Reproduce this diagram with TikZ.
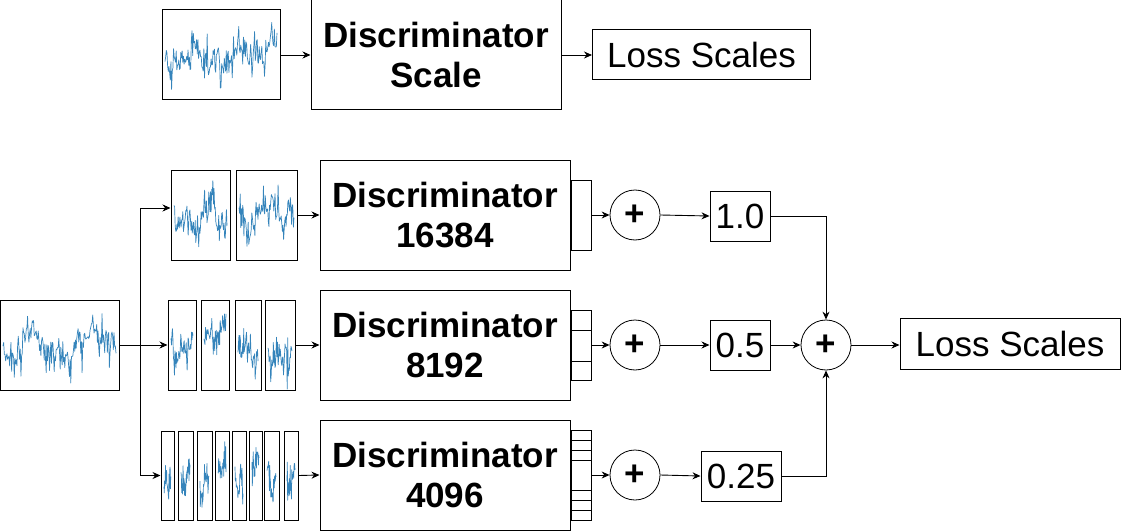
\documentclass[tikz,border=0pt]{standalone}
\usepackage{fontspec}
\setmainfont{Liberation Sans}
\usetikzlibrary{arrows.meta,calc}
\definecolor{wavec}{RGB}{31,119,180}
\newcommand\wavein[6]{% #1 left, #2 top, #3 width, #4 height, #5 seed, #6 samples
  \begin{scope}
  \clip (#1,#2) rectangle ++(#3,#4);
  \pgfmathsetseed{#5}%
  \gdef\wv{0}\gdef\wpts{}%
  \foreach \i in {0,...,#6}{%
    \pgfmathsetmacro\wnew{0.9*\wv+0.5*rand}%
    \xdef\wv{\wnew}%
    \pgfmathsetmacro\wjit{0.55*rand+1.1*pow(rand,3)}%
    \pgfmathsetmacro\wyy{#2+#4/2+#4*0.17*(\wnew+\wjit)}%
    \pgfmathsetmacro\wfr{\i/#6}%
    \pgfmathsetmacro\wxx{#1+3+(#3-6)*\wfr}%
    \xdef\wpts{\wpts(\wxx,\wyy)}%
  }%
  \draw[wave] plot coordinates {\wpts};
  \end{scope}
}
\newcommand\panel[7]{% name, left, top, width, height, seed, samples
  \wavein{#2}{#3}{#4}{#5}{#6}{#7}%
  \node[panelbox, minimum width=#4pt, minimum height=#5pt] (#1) at ({#2+#4/2},{#3+#5/2}) {};
}
\begin{document}
\begin{tikzpicture}[x=1pt,y=-1pt,
  wave/.style={draw=wavec, line width=0.7pt, opacity=0.9, line join=round},
  panelbox/.style={draw, line width=1pt, inner sep=0},
  disc/.style={draw, line width=1pt, minimum width=250pt, minimum height=110pt, inner sep=0, align=center, font=\bfseries\fontsize{35}{40}\selectfont},
  lbl/.style={draw, line width=1pt, inner sep=0, font=\fontsize{35}{40}\selectfont},
  stackbox/.style={draw, line width=0.8pt, minimum width=20pt, inner sep=0},
  plus/.style={draw, circle, line width=0.8pt, minimum size=50pt, inner sep=0, font=\bfseries\fontsize{35}{40}\selectfont},
  arr/.style={-{Stealth[length=8pt,width=7pt]}, line width=0.9pt},
  ln/.style={line width=0.9pt}]
\useasboundingbox (0,0) rectangle (1121,532);

% ---- top row
\panel{W0}{162}{10}{118}{90}{11}{170}
\node[disc] (D0) at (436,55) {Discriminator\\Scale};
\node[lbl, minimum width=218pt, minimum height=50pt] (L0) at (701.5,55) {Loss Scales};
\draw[arr] (W0.east) -- (D0.west);
\draw[arr] (D0.east) -- (L0.west);

% ---- input waveform
\panel{W}{0}{300}{119}{90}{7}{170}
\coordinate (J) at (140,345);

% 2 pieces
\panel{T1}{171}{170}{59}{90}{21}{90}
\panel{T2}{236}{170}{61}{90}{22}{90}
% 4 pieces
\panel{M1}{168}{300}{28}{90}{31}{45}
\panel{M2}{201}{300}{28}{90}{32}{45}
\panel{M3}{235}{300}{26}{90}{33}{42}
\panel{M4}{265}{300}{30}{90}{34}{45}
% 8 pieces
\panel{E1}{161}{431}{13}{89}{41}{24}
\panel{E2}{178}{431}{15}{89}{42}{26}
\panel{E3}{197}{431}{15}{89}{43}{26}
\panel{E4}{215}{431}{14}{89}{44}{25}
\panel{E5}{232}{431}{14}{89}{45}{25}
\panel{E6}{249}{431}{13}{89}{46}{24}
\panel{E7}{264}{431}{15}{89}{47}{26}
\panel{E8}{284}{431}{14}{89}{48}{25}

\draw[ln] (W.east) -- (J);
\draw[arr] (J) -- (M1.west);
\draw[arr] (J) |- ($(T1.west)+(0,-7)$);
\draw[arr] (J) |- (E1.west);

% discriminators
\node[disc] (D1) at (445,215) {Discriminator\\16384};
\node[disc] (D2) at (445,345) {Discriminator\\8192};
\node[disc] (D3) at (445,475) {Discriminator\\4096};
\draw[arr] (T2.east) -- (D1.west);
\draw[arr] (M4.east) -- (D2.west);
\draw[arr] (E8.east) -- (D3.west);

% output stacks
\node[stackbox, minimum height=70pt] (S1) at (581,215) {};
\node[stackbox, minimum height=70pt] (S2) at (581,345) {};
\draw[line width=0.8pt] (571,330) -- (591,330) (571,361) -- (591,361);
\node[stackbox, minimum height=90pt] (S3) at (581,475) {};
\foreach \yy in {440,450,460,490,500,510}{\draw[line width=0.8pt] (571,\yy) -- (591,\yy);}

% sums
\node[plus] (P1) at (635,215) {+};
\node[plus] (P2) at (635,345) {+};
\node[plus] (P3) at (635,475) {+};
\draw[arr] (S1.east) -- (P1.west);
\draw[arr] (S2.east) -- (P2.west);
\draw[arr] (S3.east) -- (P3.west);

% weights
\node[lbl, minimum width=60pt, minimum height=50pt] (B1) at (740,216) {1.0};
\node[lbl, minimum width=60pt, minimum height=50pt] (B2) at (740,345) {0.5};
\node[lbl, minimum width=80pt, minimum height=50pt] (B3) at (741,476) {0.25};
\draw[arr] (P1.east) -- (B1.west);
\draw[arr] (P2.east) -- (B2.west);
\draw[arr] (P3.east) -- (B3.west);

% final sum
\node[plus] (PS) at (826,345) {+};
\node[lbl, minimum width=220pt, minimum height=51pt] (L1) at (1010,343.5) {Loss Scales};
\draw[arr] (B1.east) -| (PS.north);
\draw[arr] (B2.east) -- (PS.west);
\draw[arr] (B3.east) -| (PS.south);
\draw[arr] (PS.east) -- (PS.east -| L1.west);
\end{tikzpicture}
\end{document}
